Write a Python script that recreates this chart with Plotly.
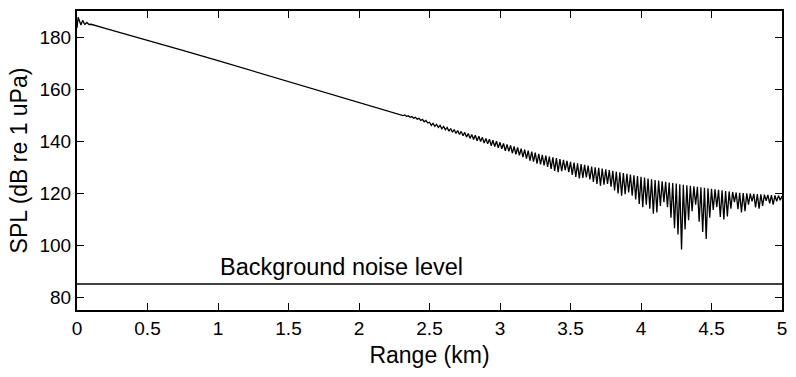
import plotly.graph_objects as go

# ---- data ----
# near-field / smooth part (range km, SPL dB)
near_range = [0.0, 0.008, 0.028, 0.040, 0.055, 0.070, 0.085, 0.10, 0.20, 0.30, 0.40,
              0.50, 0.75, 1.00, 1.25, 1.50, 1.75, 2.00, 2.25, 2.30, 2.3125, 2.325,
              2.3375, 2.35, 2.3625, 2.375, 2.3875, 2.40, 2.4125, 2.425, 2.4375, 2.45,
              2.4625, 2.475, 2.4875]
near_spl = [183.5, 187.6, 184.6, 186.4, 184.8, 185.6, 184.8, 184.9, 183.3, 181.8, 180.3,
            178.9, 174.9, 170.9, 166.9, 162.85, 158.85, 154.8, 150.8, 150.1, 149.8, 150.0,
            149.5, 149.7, 149.1, 149.4, 148.8, 149.1, 148.4, 148.7, 147.9, 148.3,
            147.4, 147.9, 146.9]

# interference region: cycle start ranges, peak and trough values
osc_range = [2.500, 2.525, 2.550, 2.575, 2.600, 2.625, 2.650, 2.675, 2.700, 2.725,
             2.750, 2.775, 2.800, 2.825, 2.850, 2.875, 2.900, 2.925, 2.950, 2.975,
             3.000, 3.025, 3.050, 3.075, 3.100, 3.125, 3.150, 3.175, 3.200, 3.225,
             3.250, 3.275, 3.300, 3.325, 3.350, 3.375, 3.400, 3.425, 3.450, 3.475,
             3.500, 3.525, 3.550, 3.575, 3.600, 3.625, 3.650, 3.675, 3.700, 3.725,
             3.750, 3.775, 3.800, 3.825, 3.850, 3.875, 3.900, 3.925, 3.950, 3.975,
             4.000, 4.025, 4.050, 4.075, 4.100, 4.125, 4.150, 4.175, 4.200, 4.225,
             4.250, 4.275, 4.300, 4.325, 4.350, 4.375, 4.400, 4.425, 4.450, 4.475,
             4.500, 4.525, 4.550, 4.575, 4.600, 4.625, 4.650, 4.675, 4.700, 4.725,
             4.750, 4.775, 4.800, 4.825, 4.850, 4.875, 4.900, 4.925, 4.950, 4.975]
osc_peak = [147.2, 146.8, 146.4, 146.0, 145.6, 145.2, 144.8, 144.4, 144.0, 143.7,
            143.3, 142.9, 142.5, 142.2, 141.8, 141.4, 141.0, 140.7, 140.3, 139.9,
            139.5, 139.1, 138.7, 138.3, 137.9, 137.5, 137.1, 136.7, 136.3, 135.9,
            135.5, 135.1, 134.7, 134.4, 134.0, 133.7, 133.4, 133.0, 132.7, 132.4,
            132.0, 131.7, 131.4, 131.1, 130.8, 130.5, 130.2, 129.9, 129.7, 129.4,
            129.1, 128.8, 128.5, 128.2, 128.0, 127.7, 127.4, 127.1, 126.8, 126.5,
            126.2, 125.9, 125.6, 125.3, 125.0, 124.8, 124.5, 124.3, 124.0, 123.8,
            123.6, 123.4, 123.2, 123.0, 122.8, 122.6, 122.4, 122.2, 122.0, 121.8,
            121.6, 121.4, 121.2, 121.0, 120.8, 120.6, 120.4, 120.2, 120.1, 120.0,
            119.9, 119.8, 119.7, 119.6, 119.5, 119.4, 119.3, 119.2, 119.1, 119.0]
osc_trough = [146.0, 145.6, 145.2, 144.7, 144.3, 143.8, 143.4, 142.9, 142.5, 142.0,
              141.5, 141.0, 140.6, 140.1, 139.8, 139.2, 138.9, 138.2, 137.9, 137.4,
              137.0, 136.2, 136.0, 135.3, 134.9, 134.5, 133.8, 133.2, 132.4, 132.1,
              131.3, 131.0, 130.6, 130.0, 129.3, 128.5, 128.0, 128.4, 128.8, 128.0,
              127.0, 126.2, 125.6, 125.8, 126.0, 125.2, 124.3, 123.5, 122.8, 123.2,
              123.5, 122.4, 121.0, 119.8, 119.0, 119.5, 120.2, 119.0, 117.5, 115.8,
              114.5, 115.5, 114.0, 112.0, 112.5, 115.0, 116.5, 114.5, 110.5, 106.5,
              104.0, 98.3, 106.0, 109.5, 113.0, 115.5, 109.0, 105.0, 102.3, 110.5,
              113.5, 114.5, 110.8, 109.8, 111.0, 114.0, 116.5, 113.8, 112.5, 113.0,
              115.5, 116.8, 114.5, 114.0, 115.0, 117.0, 116.0, 115.5, 116.8, 117.2]
end_range = [5.0]
end_spl = [118.8]
half_cycle = 0.0125

noise_level = 85
x_ticks = [0, 0.5, 1, 1.5, 2, 2.5, 3, 3.5, 4, 4.5, 5]
x_labels = ["0", "0.5", "1", "1.5", "2", "2.5", "3", "3.5", "4", "4.5", "5"]
y_ticks = [80, 100, 120, 140, 160, 180]

# assemble the trace
xs = list(near_range)
ys = list(near_spl)
for r, p, t in zip(osc_range, osc_peak, osc_trough):
    xs += [r, r + half_cycle]
    ys += [p, t]
xs += end_range
ys += end_spl

FONT = "Liberation Sans, Arial, sans-serif"

fig = go.Figure()
fig.add_trace(go.Scatter(x=xs, y=ys, mode="lines",
                         line=dict(color="black", width=1.3), showlegend=False,
                         hoverinfo="skip"))
fig.add_trace(go.Scatter(x=[0, 5], y=[noise_level, noise_level], mode="lines",
                         line=dict(color="black", width=1.3), showlegend=False,
                         hoverinfo="skip"))

fig.add_annotation(x=1.0, y=noise_level, yshift=2, xref="x", yref="y",
                   text="Background noise level", showarrow=False,
                   xanchor="left", yanchor="bottom",
                   font=dict(family=FONT, size=23.5, color="black"))

axis_common = dict(showgrid=False, zeroline=False, showline=True, linecolor="black",
                   linewidth=2, mirror="ticks", ticks="inside", ticklen=7,
                   tickwidth=1.3, tickcolor="black",
                   tickfont=dict(family=FONT, size=19, color="black"))

fig.update_xaxes(range=[0, 5], tickvals=x_ticks, ticktext=x_labels,
                 title=dict(text="Range (km)", font=dict(family=FONT, size=23, color="black"),
                            standoff=9),
                 **axis_common)
fig.update_yaxes(range=[75, 190], tickvals=y_ticks,
                 title=dict(text="SPL (dB re 1 uPa)", font=dict(family=FONT, size=23, color="black"),
                            standoff=5),
                 **axis_common)

fig.update_layout(width=796, height=377, margin=dict(l=77, r=9, t=10, b=67),
                  plot_bgcolor="white", paper_bgcolor="white")

fig.write_html("out.html")
